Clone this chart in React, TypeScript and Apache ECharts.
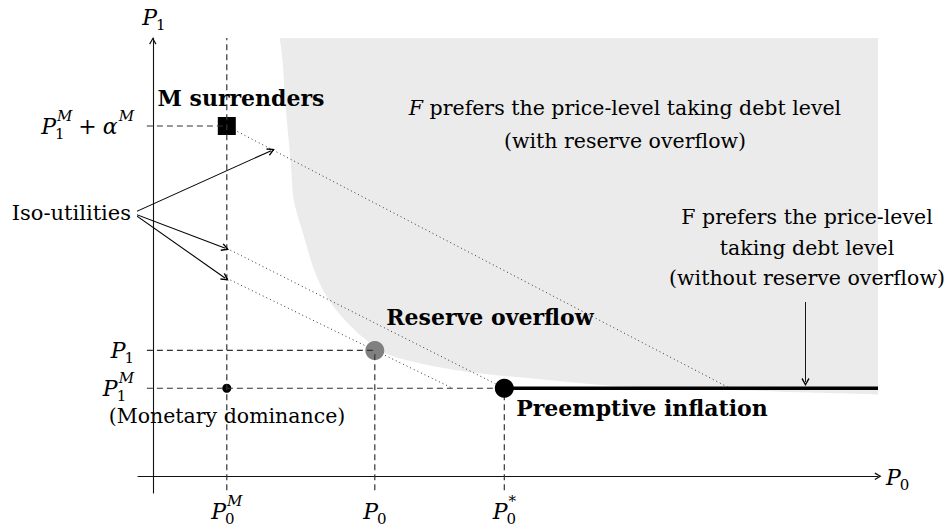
import React, { useEffect, useRef } from 'react';
import * as echarts from 'echarts';

// ---- data (in model units) ----
const P0M = 1, P0 = 3, P0S = 4.75;
const P1M = 1, P1 = 1.43, P1A = 3.98;

const X_MIN = -0.2, X_MAX = 9.8, Y_MIN = -0.19, Y_MAX = 4.98;

const xTickValues = [P0M, P0, P0S];
const xTickLabels = ['P_0^M', 'P_0', 'P_0^*'];
const xGuideTops = [Y_MAX, P1, P1M];
const yTickValues = [P1A, P1, P1M];
const yTickLabels = ['P_1^M + α^M', 'P_1', 'P_1^M'];
const yGuideEnds = [P0M, P0, P0S];
const GUIDE_BOTTOM = -0.16;
const GUIDE_LEFT = -0.08;

const boundaryX = [1.716, 1.757, 1.784, 1.865, 1.905, 2.031, 2.166, 2.301, 2.482, 2.685, 2.888, 3.135, 3.608, 4.104, 4.645, 5.095, 6.311, 7.662, 8.73, 9.8];
const boundaryY = [4.98, 4.693, 4.307, 3.557, 3.136, 2.758, 2.378, 2.114, 1.886, 1.697, 1.545, 1.398, 1.284, 1.205, 1.148, 1.114, 1.023, 0.985, 0.955, 0.93];

const isoStartY = [P1A, 2.59, 2.25];
const isoEndX = [7.8, P0S, 4.05];
const isoLabelPoint = [-0.27, 2.99];
const isoArrowTargets = [[1.6, 3.7], [0.98, 2.59], [0.98, 2.25]];
const noOverflowArrow = [[8.82, 1.98], [8.82, 1.07]];
const thickLineX = [P0S, 9.8];

const squarePoints = [[P0M, P1A]];
const grayPoints = [[P0, P1]];
const bigDotPoints = [[P0S, P1M]];
const smallDotPoints = [[P0M, P1M]];

// ---- styling / layout helpers ----
const FONT = '"DejaVu Serif", serif';
const ARROW = 'path://M5,0 L10,8.5 L8.6,9.5 L5,3.2 L1.4,9.5 L0,8.5 Z';

let measureCtx: CanvasRenderingContext2D | null = null;
function mw(text: string, size: number, style: string) {
  if (!measureCtx) measureCtx = document.createElement('canvas').getContext('2d');
  measureCtx!.font = `${style} ${size}px ${FONT}`;
  return measureCtx!.measureText(text).width;
}
const isLetter = (c: string) => /[A-Za-zα-ω]/.test(c);

function parseTex(s: string) {
  const atoms: any[] = [];
  let i = 0;
  while (i < s.length) {
    const c = s[i];
    if (c === ' ') { i++; continue; }
    if (c === '_' || c === '^') {
      const a = atoms[atoms.length - 1];
      let arg;
      if (s[i + 1] === '{') { const j = s.indexOf('}', i + 2); arg = s.slice(i + 2, j); i = j + 1; }
      else { arg = s[i + 1]; i += 2; }
      if (c === '_') a.sub = arg; else a.sup = arg;
      continue;
    }
    atoms.push({ base: c, op: c === '+' });
    i++;
  }
  return atoms;
}

function txt(text: string, x: number, y: number, size: number, style: string) {
  return {
    type: 'text', x, y,
    style: {
      text, fontSize: size, fontFamily: FONT, fontStyle: style, fill: '#000',
      align: 'left', verticalAlign: 'middle', textAlign: 'left', textVerticalAlign: 'middle',
    },
  };
}

function layoutMath(tex: string) {
  const BASE = 22, SMALL = 15;
  const children: any[] = [];
  let x = 0;
  for (const a of parseTex(tex)) {
    if (a.op) {
      x += 6;
      children.push(txt(a.base, x, 0, BASE, 'normal'));
      x += mw(a.base, BASE, 'normal') + 6;
      continue;
    }
    const st = isLetter(a.base) ? 'italic' : 'normal';
    children.push(txt(a.base, x, 0, BASE, st));
    const w = mw(a.base, BASE, st);
    let ext = 0;
    if (a.sub) {
      const s2 = isLetter(a.sub) ? 'italic' : 'normal';
      children.push(txt(a.sub, x + w - 1, 8, SMALL, s2));
      ext = Math.max(ext, mw(a.sub, SMALL, s2) - 1);
    }
    if (a.sup) {
      const s2 = isLetter(a.sup) ? 'italic' : 'normal';
      children.push(txt(a.sup, x + w + 1, -10, SMALL, s2));
      ext = Math.max(ext, mw(a.sup, SMALL, s2) + 1);
    }
    x += w + ext;
  }
  return { children, width: x };
}

const mathLabels = [
  ...xTickValues.map((v, i) => ({ x: v, y: 0, tex: xTickLabels[i], place: 'below' })),
  ...yTickValues.map((v, i) => ({ x: X_MIN, y: v, tex: yTickLabels[i], place: 'left' })),
  { x: 0, y: Y_MAX, tex: 'P_1', place: 'above' },
  { x: X_MAX, y: 0, tex: 'P_0', place: 'right' },
];

function gText(text: string, x: number, y: number, opts: any = {}) {
  const align = opts.align || 'center';
  const size = opts.size || 20.5;
  return {
    type: 'text', x, y, z: 100,
    style: {
      text, fontSize: size, fontFamily: FONT, fontWeight: opts.bold ? 'bold' : 'normal',
      fill: '#000', align, textAlign: align, verticalAlign: 'middle', textVerticalAlign: 'middle',
      rich: { i: { fontStyle: 'italic', fontSize: size, fontFamily: FONT } },
    },
  };
}

const dashStyle = { color: '#333', width: 1.2, type: [6, 4] as any };
const dotStyle = { color: '#333', width: 1, type: [1, 3] as any };

function segment(name: string, a: number[], b: number[], style: any, z: number) {
  return {
    type: 'line', name, data: [a, b], symbol: 'none', z, silent: true,
    lineStyle: style,
  };
}

export default function App() {
  const ref = useRef<HTMLDivElement>(null);
  useEffect(() => {
    const chart = echarts.init(ref.current!, null, { renderer: 'svg' });
    const series: any[] = [];

    series.push({
      type: 'line', name: 'region', z: 1, silent: true,
      data: boundaryX.map((x, i) => [x, boundaryY[i]]),
      symbol: 'none', smooth: 0.3,
      lineStyle: { width: 0 },
      areaStyle: { color: '#ebebeb', opacity: 1, origin: 'end' },
    });

    isoStartY.forEach((y, i) => {
      series.push(segment('iso' + i, [P0M, y], [isoEndX[i], P1M], dotStyle, 2));
    });

    const solid = (color: string) => ({ color, opacity: 1 });
    series.push({ type: 'scatter', z: 3, symbol: 'rect', symbolSize: 18, data: squarePoints, itemStyle: solid('#000') });
    series.push({ type: 'scatter', z: 3, symbol: 'circle', symbolSize: 19, data: grayPoints, itemStyle: solid('#808080') });
    series.push({ type: 'scatter', z: 6, symbol: 'circle', symbolSize: 19, data: bigDotPoints, itemStyle: solid('#000') });
    series.push({ type: 'scatter', z: 3, symbol: 'circle', symbolSize: 9, data: smallDotPoints, itemStyle: solid('#000') });

    xTickValues.forEach((v, i) => {
      series.push(segment('vx' + i, [v, GUIDE_BOTTOM], [v, xGuideTops[i]], dashStyle, 4));
    });
    yTickValues.forEach((v, i) => {
      series.push(segment('hy' + i, [GUIDE_LEFT, v], [yGuideEnds[i], v], dashStyle, 4));
    });

    series.push(segment('thick', [thickLineX[0], P1M], [thickLineX[1], P1M], { color: '#000', width: 3.3 }, 5));

    series.push({
      type: 'lines', coordinateSystem: 'cartesian2d', z: 7, silent: true,
      symbol: ['none', ARROW], symbolSize: 8,
      lineStyle: { color: '#000', width: 1.1, opacity: 1 },
      data: [
        ...isoArrowTargets.map((t) => ({ coords: [isoLabelPoint, t] })),
        { coords: noOverflowArrow, lineStyle: { width: 0.9 } },
      ],
    });

    series.push({
      type: 'custom', z: 8, silent: true,
      data: mathLabels.map((l, i) => [l.x, l.y, i]),
      encode: { x: 0, y: 1 },
      renderItem: (params: any, api: any) => {
        const lab = mathLabels[api.value(2)];
        const p = api.coord([api.value(0), api.value(1)]);
        const m = layoutMath(lab.tex);
        let dx = 0, dy = 0;
        if (lab.place === 'below') { dx = -m.width / 2; dy = 35; }
        else if (lab.place === 'left') { dx = -m.width - 4; dy = 0; }
        else if (lab.place === 'above') { dx = -m.width / 2 + 1; dy = -21; }
        else if (lab.place === 'right') { dx = 8; dy = 1; }
        return { type: 'group', x: p[0] + dx, y: p[1] + dy, children: m.children };
      },
    });

    const axisCommon = {
      type: 'value',
      splitLine: { show: false },
      axisTick: { show: false },
      axisLabel: { show: false },
    };

    chart.setOption({
      animation: false,
      backgroundColor: '#fff',
      grid: { left: 138, right: 71, top: 38, bottom: 37 },
      xAxis: {
        ...axisCommon, min: X_MIN, max: X_MAX,
        axisLine: { show: true, onZero: true, symbol: ['none', ARROW], symbolSize: [8, 7], symbolOffset: [0, 0], lineStyle: { color: '#111', width: 1.1 } },
      },
      yAxis: {
        ...axisCommon, min: Y_MIN, max: Y_MAX,
        axisLine: { show: true, onZero: true, symbol: ['none', ARROW], symbolSize: [8, 7], symbolOffset: [0, -3], lineStyle: { color: '#111', width: 1.1 } },
      },
      series,
      graphic: [
        gText('M surrenders', 241, 98, { bold: true, size: 22 }),
        gText('{i|F} prefers the price-level taking debt level', 625, 108),
        gText('(with reserve overflow)', 625, 141),
        gText('F prefers the price-level', 807, 217),
        gText('taking debt level', 807, 248),
        gText('(without reserve overflow)', 807, 278),
        gText('Reserve overflow', 490, 317, { bold: true, size: 22 }),
        gText('Preemptive inflation', 642, 408, { bold: true, size: 22 }),
        gText('(Monetary dominance)', 227, 416),
        gText('Iso-utilities', 131, 213, { align: 'right', size: 21 }),
      ],
    });
    return () => chart.dispose();
  }, []);
  return (
    <div
      ref={ref}
      style={{ position: 'fixed', left: 0, top: 0, width: 949, height: 530, background: '#fff' }}
    />
  );
}
